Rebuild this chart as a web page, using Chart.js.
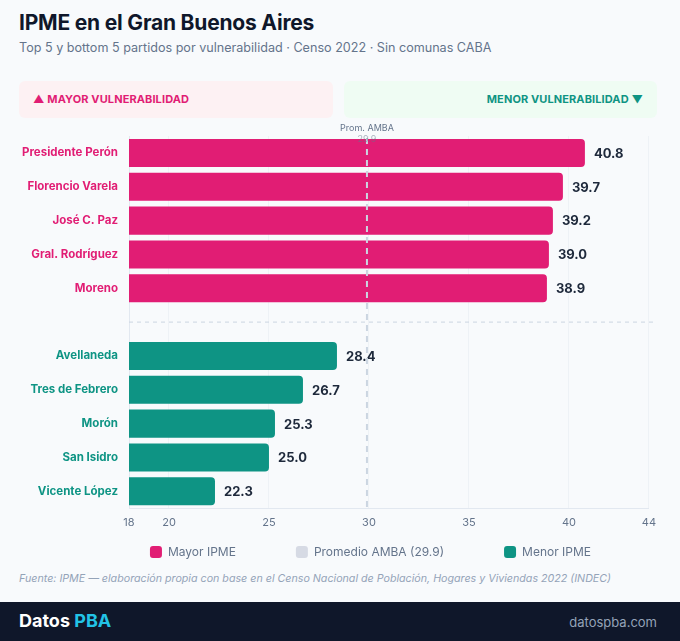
<!DOCTYPE html>
<html>
<head>
<meta charset="utf-8">
<script src="https://cdn.jsdelivr.net/npm/chart.js@4/dist/chart.umd.min.js"></script>
<style>
  body { margin: 0; background: #f8fafc; font-family: Inter, "Noto Sans", sans-serif; }
  .page { position: relative; width: 680px; height: 641px; overflow: hidden; }
  h1 { position: absolute; left: 19px; top: 10px; margin: 0; font-size: 21px; font-weight: 700; color: #0f172a; letter-spacing: -0.2px; }
  .sub { position: absolute; left: 19px; top: 40px; font-size: 12.6px; color: #64748b; }
  .band { position: absolute; top: 81px; height: 37px; border-radius: 6px; font-size: 11px; font-weight: 700; line-height: 37px; letter-spacing: 0.1px; }
  .band.up { left: 19px; width: 314px; background: #fdf1f3; color: #e11d74; padding-left: 14px; box-sizing: border-box; }
  .band.down { left: 344px; width: 313px; background: #effcf3; color: #0f9483; text-align: right; padding-right: 14px; box-sizing: border-box; }
  .chart-box { position: absolute; left: 19px; top: 118px; width: 645px; height: 450px; }
  .src { position: absolute; left: 19px; top: 572px; font-size: 10.7px; font-style: italic; color: #94a3b8; }
  .foot { position: absolute; left: 0; top: 602px; width: 680px; height: 39px; background: #0f172a; }
  .brand { position: absolute; left: 19px; top: 8px; font-size: 18px; font-weight: 700; color: #fff; }
  .brand span { color: #22c3e6; }
  .site { position: absolute; right: 23px; top: 12px; font-size: 13px; color: #94a3b8; }
</style>
</head>
<body>
<div class="page">
  <h1>IPME en el Gran Buenos Aires</h1>
  <div class="sub">Top 5 y bottom 5 partidos por vulnerabilidad · Censo 2022 · Sin comunas CABA</div>
  <div class="band up">▲ MAYOR VULNERABILIDAD</div>
  <div class="band down">MENOR VULNERABILIDAD ▼</div>
  <div class="chart-box"><canvas id="ipmeChart"></canvas></div>
  <div class="src">Fuente: IPME — elaboración propia con base en el Censo Nacional de Población, Hogares y Viviendas 2022 (INDEC)</div>
  <div class="foot">
    <div class="brand">Datos <span>PBA</span></div>
    <div class="site">datospba.com</div>
  </div>
</div>
<script>
// datos
const topPartidos = ['Presidente Perón', 'Florencio Varela', 'José C. Paz', 'Gral. Rodríguez', 'Moreno'];
const topValues = [40.8, 39.7, 39.2, 39.0, 38.9];
const bottomPartidos = ['Avellaneda', 'Tres de Febrero', 'Morón', 'San Isidro', 'Vicente López'];
const bottomValues = [28.4, 26.7, 25.3, 25.0, 22.3];
const promedioAmba = 29.9;
const xTicks = [18, 20, 25, 30, 35, 40, 44];
const legendLabels = ['Mayor IPME', 'Promedio AMBA (29.9)', 'Menor IPME'];

const PINK = '#e11d74';
const TEAL = '#0e9484';
const AVG = '#cbd5e1';

// fila vacia en el medio para separar los dos grupos
const labels = [...topPartidos, '', ...bottomPartidos];
const values = [...topValues, null, ...bottomValues];
const colors = labels.map((l, i) => i < topPartidos.length ? PINK : TEAL);

const extras = {
    id: 'extras',
    afterDatasetsDraw(chart) {
        const { ctx, chartArea, scales } = chart;
        const meta = chart.getDatasetMeta(0);

        // valores al final de cada barra
        ctx.save();
        ctx.font = '700 13px Inter';
        ctx.fillStyle = '#1e293b';
        ctx.textBaseline = 'middle';
        meta.data.forEach((bar, i) => {
            if (values[i] == null) return;
            ctx.fillText(values[i].toFixed(1), bar.x + 9, bar.y + 1);
        });

        // separador entre grupos
        const sepY = scales.y.getPixelForValue(topPartidos.length);
        ctx.strokeStyle = '#cbd5e1';
        ctx.lineWidth = 1;
        ctx.setLineDash([4, 4]);
        ctx.beginPath();
        ctx.moveTo(chartArea.left, sepY);
        ctx.lineTo(chartArea.right + 8, sepY);
        ctx.stroke();

        // linea del promedio AMBA
        const ax = scales.x.getPixelForValue(promedioAmba);
        ctx.strokeStyle = AVG;
        ctx.lineWidth = 2;
        ctx.setLineDash([6, 5]);
        ctx.beginPath();
        ctx.moveTo(ax, chartArea.top + 2);
        ctx.lineTo(ax, chartArea.bottom);
        ctx.stroke();
        ctx.setLineDash([]);

        ctx.font = '9px Inter';
        ctx.textAlign = 'center';
        ctx.fillStyle = '#64748b';
        ctx.fillText('Prom. AMBA', ax, chartArea.top - 8);
        ctx.fillStyle = 'rgba(100,116,139,0.55)';
        ctx.fillText(promedioAmba.toFixed(1), ax, chartArea.top + 3);
        ctx.restore();
    }
};

new Chart(document.getElementById('ipmeChart'), {
    type: 'bar',
    data: {
        labels: labels,
        datasets: [{
            label: 'IPME',
            data: values,
            backgroundColor: colors,
            borderRadius: 4,
            barPercentage: 0.83,
            categoryPercentage: 1
        }]
    },
    options: {
        indexAxis: 'y',
        responsive: true,
        maintainAspectRatio: false,
        animation: false,
        layout: { padding: { top: 18, right: 13, left: 0, bottom: 0 } },
        scales: {
            x: {
                min: 18,
                max: 44,
                afterBuildTicks: s => { s.ticks = xTicks.map(v => ({ value: v })); },
                afterFit: s => { s.height = 22; },
                grid: { color: '#eef2f6', drawTicks: false },
                border: { color: '#e2e8f0' },
                ticks: { color: '#64748b', font: { family: 'Inter', size: 11 }, padding: 8 }
            },
            y: {
                afterFit: s => { s.width = 110; },
                grid: { display: false, drawTicks: false },
                border: { color: '#e2e8f0' },
                ticks: {
                    color: c => c.index < topPartidos.length ? PINK : TEAL,
                    font: { family: 'Inter', size: 11.5, weight: '700' },
                    padding: 11
                }
            }
        },
        plugins: {
            tooltip: { enabled: false },
            legend: {
                position: 'bottom',
                align: 'end',
                // titulo vacio con padding negativo: sube los items sin perder el espaciado
                title: { display: true, text: '', font: { size: 1 }, padding: { top: -22.7, bottom: -22.7 } },
                labels: {
                    boxWidth: 12,
                    boxHeight: 12,
                    useBorderRadius: true,
                    borderRadius: 3,
                    color: '#64748b',
                    font: { family: 'Inter', size: 12 },
                    padding: 60,
                    generateLabels: () => [PINK, '#d6dae4', TEAL].map((c, i) => ({
                        text: legendLabels[i],
                        fillStyle: c,
                        strokeStyle: c,
                        lineWidth: 0,
                        borderRadius: 3,
                        fontColor: '#64748b'
                    }))
                }
            }
        }
    },
    plugins: [extras]
});
</script>
</body>
</html>
